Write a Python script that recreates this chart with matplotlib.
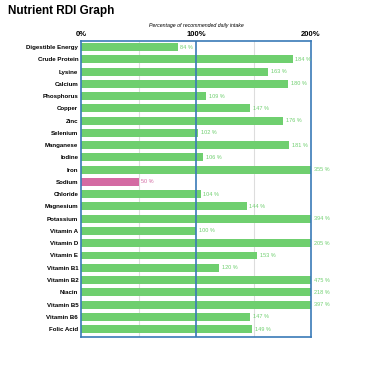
import matplotlib

matplotlib.use("Agg")
import matplotlib.pyplot as plt
import numpy as np

nutrients = [
    "Digestible Energy", "Crude Protein", "Lysine", "Calcium", "Phosphorus",
    "Copper", "Zinc", "Selenium", "Manganese", "Iodine", "Iron", "Sodium",
    "Chloride", "Magnesium", "Potassium", "Vitamin A", "Vitamin D",
    "Vitamin E", "Vitamin B1", "Vitamin B2", "Niacin", "Vitamin B5",
    "Vitamin B6", "Folic Acid",
]
rdi_pct = [84, 184, 163, 180, 109, 147, 176, 102, 181, 106, 355, 50,
           104, 144, 394, 100, 205, 153, 120, 475, 218, 397, 147, 149]
low_nutrients = ["Sodium"]
x_ticks = [0, 100, 200]
x_tick_labels = ["0%", "100%", "200%"]

GREEN = "#6fcf6f"
PINK = "#d46aa3"
BLUE = "#3a7ab8"
XMAX = 200

plt.rcParams["font.family"] = ["Liberation Sans", "DejaVu Sans"]

fig = plt.figure(figsize=(3.65, 3.65), dpi=100)
ax = fig.add_axes([81 / 365, 1 - 337 / 365, 230 / 365, 296 / 365])

y = np.arange(len(nutrients))
colors = [PINK if n in low_nutrients else GREEN for n in nutrients]
shown = np.minimum(rdi_pct, XMAX)
ax.barh(y, shown, height=0.65, color=colors, zorder=2)

for yi, v, s, c in zip(y, rdi_pct, shown, colors):
    ax.text(s + 2.5, yi, f"{v} %", va="center", ha="left", fontsize=4,
            color=c, clip_on=False)

ax.axvline(50, color="#dddddd", lw=0.8, zorder=1)
ax.axvline(150, color="#dddddd", lw=0.8, zorder=1)
ax.axvline(100, color=BLUE, lw=1.2, zorder=3)

ax.set_xlim(0, XMAX)
ax.set_ylim(len(nutrients) - 0.35, -0.5)
ax.set_yticks(y)
ax.set_yticklabels(nutrients, fontsize=4.4, fontweight="bold")
ax.xaxis.tick_top()
ax.set_xticks(x_ticks)
ax.set_xticklabels(x_tick_labels, fontsize=5.5, fontweight="bold")
ax.tick_params(length=0, pad=2)
ax.xaxis.set_label_position("top")
ax.set_xlabel("Percentage of recommended daily intake", fontsize=3.8,
              style="italic", labelpad=3)
for sp in ax.spines.values():
    sp.set_color(BLUE)
    sp.set_linewidth(1.2)

fig.text(8 / 365, 1 - 11 / 365, "Nutrient RDI Graph", fontsize=8.5,
         fontweight="bold", va="center", ha="left")

fig.savefig("out.png", dpi=100)
